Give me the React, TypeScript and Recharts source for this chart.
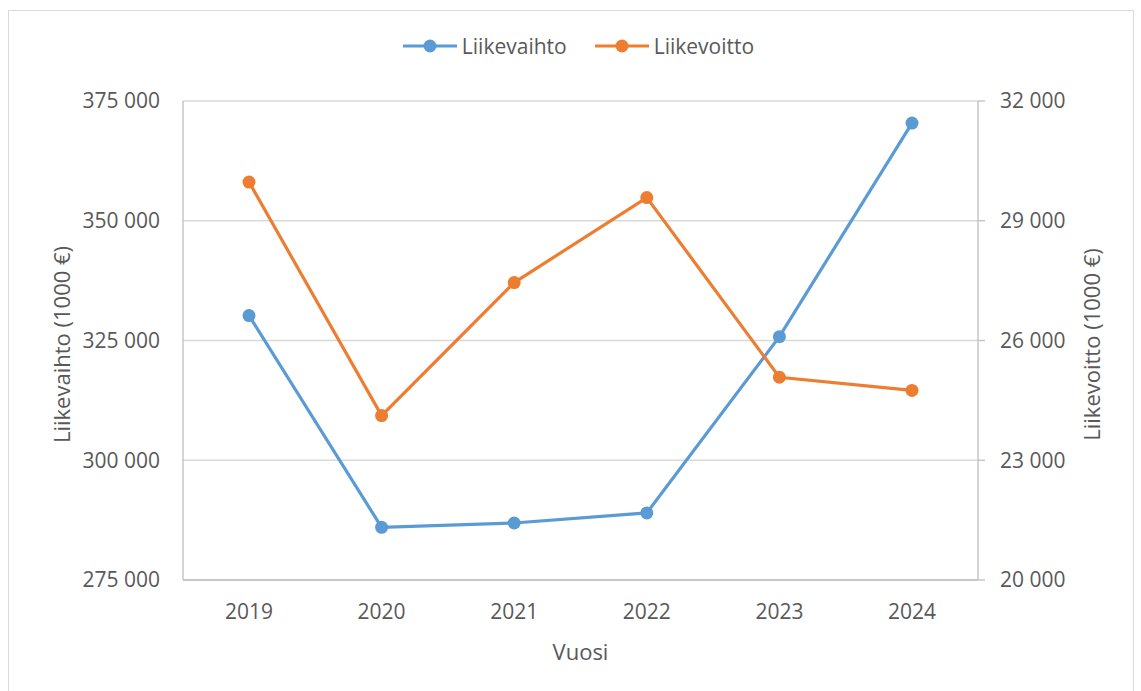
import { CartesianGrid, Line, LineChart, XAxis, YAxis } from 'recharts'

const years = ['2019', '2020', '2021', '2022', '2023', '2024']
const liikevaihto = [330200, 286000, 286900, 289000, 325800, 370400]
const liikevoitto = [29970, 24120, 27450, 29580, 25080, 24750]
const leftTicks = [275000, 300000, 325000, 350000, 375000]
const rightTicks = [20000, 23000, 26000, 29000, 32000]

const data = years.map((year, i) => ({ year, liikevaihto: liikevaihto[i], liikevoitto: liikevoitto[i] }))

const BLUE = '#5b9bd5'
const ORANGE = '#ed7d31'
const TEXT = '#595959'
const FONT = '"Open Sans", sans-serif'

const fmt = (v: number) => String(v).replace(/\B(?=(\d{3})+(?!\d))/g, ' ')

function LegendItem({ color, label }: { color: string; label: string }) {
  return (
    <div style={{ display: 'flex', alignItems: 'center', gap: 5 }}>
      <svg width={54} height={14}>
        <line x1={0} y1={7} x2={54} y2={7} stroke={color} strokeWidth={3} />
        <circle cx={27} cy={7} r={6.5} fill={color} />
      </svg>
      <span>{label}</span>
    </div>
  )
}

export default function App() {
  const tick = { fill: TEXT, fontSize: 21, fontFamily: FONT }
  const titleStyle = { fill: TEXT, fontSize: 22, fontFamily: FONT }
  return (
    <div style={{ position: 'absolute', left: 0, top: 0, width: 1141, height: 691, background: '#fff', overflow: 'hidden' }}>
      <div style={{ position: 'absolute', left: 8, top: 10, width: 1124, height: 700, border: '1px solid #d9d9d9' }} />
      <div
        style={{
          position: 'absolute',
          top: 32,
          left: 0,
          width: 1141,
          display: 'flex',
          justifyContent: 'center',
          gap: 28,
          paddingLeft: 16,
          boxSizing: 'border-box',
          fontFamily: FONT,
          fontSize: 21,
          color: TEXT,
        }}
      >
        <LegendItem color={BLUE} label="Liikevaihto" />
        <LegendItem color={ORANGE} label="Liikevoitto" />
      </div>
      <div style={{ position: 'absolute', left: 0, top: 0 }}>
        <LineChart width={1141} height={691} data={data} margin={{ top: 101, right: 0, bottom: 0, left: 0 }}>
          <CartesianGrid yAxisId="left" vertical={false} stroke="#d9d9d9" strokeWidth={1.3} />
          <XAxis
            dataKey="year"
            height={111}
            padding={{ left: 66, right: 66 }}
            tick={tick}
            tickLine={false}
            tickSize={0}
            tickMargin={24}
            axisLine={{ stroke: '#bfbfbf', strokeWidth: 1.3 }}
            label={{ value: 'Vuosi', position: 'insideBottom', offset: 31, style: titleStyle }}
          />
          <YAxis
            yAxisId="left"
            width={183}
            domain={[275000, 375000]}
            ticks={leftTicks}
            tickFormatter={fmt}
            tick={tick}
            tickLine={false}
            tickSize={0}
            tickMargin={23}
            axisLine={{ stroke: '#bfbfbf', strokeWidth: 1.3 }}
            label={{ value: 'Liikevaihto (1000 €)', angle: -90, position: 'center', dx: -29, dy: 4, style: { ...titleStyle, textAnchor: 'middle' } }}
          />
          <YAxis
            yAxisId="right"
            orientation="right"
            width={163}
            domain={[20000, 32000]}
            ticks={rightTicks}
            tickFormatter={fmt}
            tick={{ ...tick, textAnchor: 'start' }}
            tickLine={{ stroke: '#bfbfbf', strokeWidth: 1.3 }}
            tickSize={7}
            tickMargin={15}
            axisLine={{ stroke: '#bfbfbf', strokeWidth: 1.3 }}
            label={{ value: 'Liikevoitto (1000 €)', angle: -90, position: 'center', dx: 33, dy: 4, style: { ...titleStyle, textAnchor: 'middle' } }}
          />
          <Line
            yAxisId="left"
            dataKey="liikevaihto"
            name="Liikevaihto"
            stroke={BLUE}
            strokeWidth={3.2}
            dot={{ r: 6.5, fill: BLUE, stroke: BLUE, strokeWidth: 0 }}
            activeDot={false}
            isAnimationActive={false}
          />
          <Line
            yAxisId="right"
            dataKey="liikevoitto"
            name="Liikevoitto"
            stroke={ORANGE}
            strokeWidth={3.2}
            dot={{ r: 6.5, fill: ORANGE, stroke: ORANGE, strokeWidth: 0 }}
            activeDot={false}
            isAnimationActive={false}
          />
        </LineChart>
      </div>
    </div>
  )
}
